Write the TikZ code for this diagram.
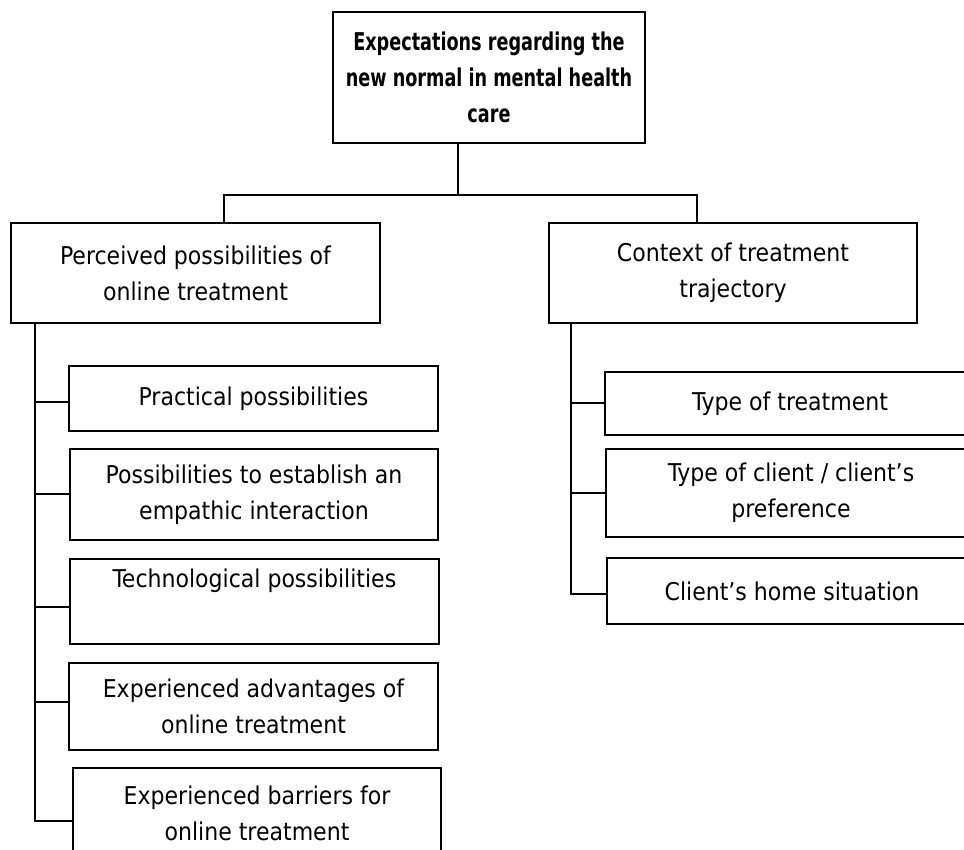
\documentclass[tikz,border=0pt]{standalone}
\usepackage{fontspec}
\setmainfont{DejaVu Sans Condensed}[BoldFeatures={FakeStretch=0.8}]
\begin{document}
\begin{tikzpicture}[x=1pt,y=-1pt,
  box/.style={draw=black, line width=1.6pt, inner sep=0pt, align=center,
    font=\fontsize{24.5}{36}\selectfont},
  conn/.style={draw=black, line width=1.3pt}]
\useasboundingbox (0,0) rectangle (964,850);
\clip (0,0) rectangle (964,850);
\fill[white] (0,0) rectangle (964,850);
% top
\node[box, minimum width=312pt, minimum height=131pt, font=\bfseries\fontsize{24.5}{36}\selectfont] (top) at (489,77.5)
  {Expectations regarding the\\new normal in mental health\\care};
% level 2
\node[box, minimum width=369pt, minimum height=100pt] (left) at (195.5,273)
  {Perceived possibilities of\\online treatment};
\node[box, minimum width=368pt, minimum height=100pt] (right) at (733,273)
  {Context of treatment\\trajectory};
% left children
\node[box, minimum width=369pt, minimum height=65pt] (l1) at (253.5,398.5) {Practical possibilities};
\node[box, minimum width=368pt, minimum height=91pt] (l2) at (254,494.5) {Possibilities to establish an\\empathic interaction};
\node[box, minimum width=369pt, minimum height=85pt] (l3) at (254.5,601.5) {Technological possibilities\\\strut};
\node[box, minimum width=369pt, minimum height=87pt] (l4) at (253.5,706.5) {Experienced advantages of\\online treatment};
\node[box, minimum width=368pt, minimum height=90pt] (l5) at (257,813) {Experienced barriers for\\online treatment};
% right children
\node[box, minimum width=370pt, minimum height=63pt] (r1) at (790,403.5) {Type of treatment};
\node[box, minimum width=370pt, minimum height=88pt] (r2) at (791,493) {Type of client / client’s\\preference};
\node[box, minimum width=370pt, minimum height=66pt] (r3) at (792,591) {Client’s home situation};
% connector end points on the child boxes
\coordinate (c1) at ([yshift=-3.5pt]l1.west);
\coordinate (c2) at ([yshift=0.5pt]l2.west);
\coordinate (c3) at ([yshift=-5.5pt]l3.west);
\coordinate (c4) at ([yshift=4.5pt]l4.west);
\coordinate (c5) at ([yshift=-8pt]l5.west);
\coordinate (d1) at ([yshift=0.5pt]r1.west);
\coordinate (d2) at (r2.west);
\coordinate (d3) at ([yshift=-3pt]r3.west);
% connectors
\coordinate (tj) at (458,195);
\coordinate (busL) at (224,195);
\coordinate (busR) at (697,195);
\draw[conn] (tj |- top.south) -- (tj);
\draw[conn] (busL |- left.north) -- (busL) -- (busR) -- (busR |- right.north);
\coordinate (lsp) at (35,0);
\coordinate (rsp) at (571,0);
\draw[conn] (lsp |- left.south) |- (c5);
\draw[conn] (lsp |- c1) -- (c1);
\draw[conn] (lsp |- c2) -- (c2);
\draw[conn] (lsp |- c3) -- (c3);
\draw[conn] (lsp |- c4) -- (c4);
\draw[conn] (rsp |- right.south) |- (d3);
\draw[conn] (rsp |- d1) -- (d1);
\draw[conn] (rsp |- d2) -- (d2);
\end{tikzpicture}
\end{document}
